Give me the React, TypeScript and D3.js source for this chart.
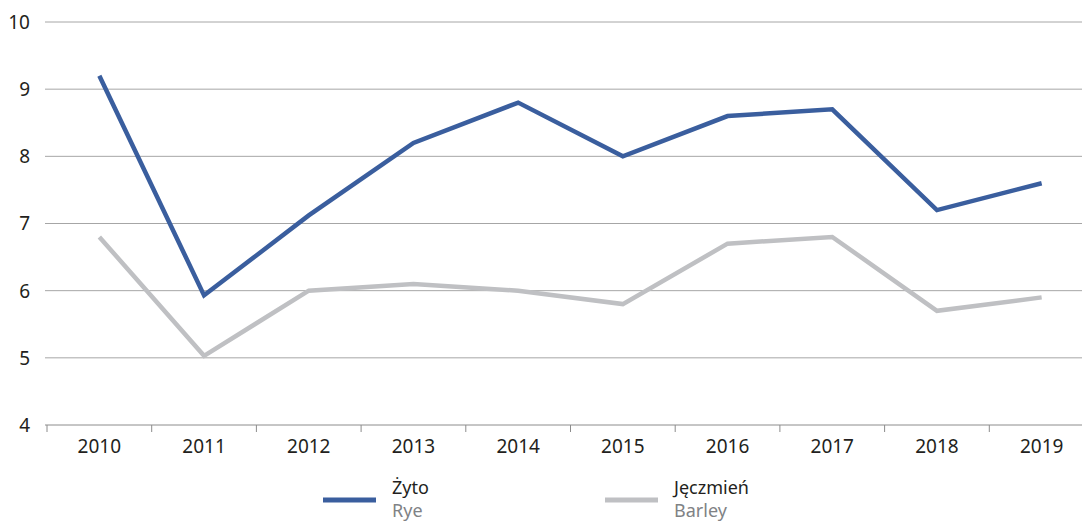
import * as d3 from "d3";
import { useEffect, useRef } from "react";

const years = ["2010", "2011", "2012", "2013", "2014", "2015", "2016", "2017", "2018", "2019"];
const rye = [9.2, 5.93, 7.12, 8.2, 8.8, 8.0, 8.6, 8.7, 7.2, 7.6];
const barley = [6.8, 5.03, 6.0, 6.1, 6.0, 5.8, 6.7, 6.8, 5.7, 5.9];
const yTicks = [4, 5, 6, 7, 8, 9, 10];

const width = 1082;
const height = 523;
const font = "'Noto Sans', 'Open Sans', sans-serif";
const ryeColor = "#3a5e9e";
const barleyColor = "#bfc0c3";

const App = () => {
  const ref = useRef<SVGSVGElement>(null);

  useEffect(() => {
    const margin = { top: 22, right: -12, bottom: 98, left: 47 };
    const svg = d3.select(ref.current);
    svg.selectAll("*").remove();

    const x = d3
      .scaleBand()
      .domain(years)
      .range([margin.left, width - margin.right]);

    const y = d3
      .scaleLinear()
      .domain([4, 10])
      .range([height - margin.bottom, margin.top]);

    // gridlines
    svg
      .append("g")
      .selectAll("line")
      .data(yTicks.filter((t) => t > 4))
      .join("line")
      .attr("x1", 45)
      .attr("x2", width)
      .attr("y1", (d) => y(d))
      .attr("y2", (d) => y(d))
      .attr("stroke", "#a6a6a6")
      .attr("stroke-width", 1);

    // y labels
    svg
      .append("g")
      .selectAll("text")
      .data(yTicks)
      .join("text")
      .attr("x", 30)
      .attr("y", (d) => y(d))
      .attr("dy", "0.36em")
      .attr("text-anchor", "end")
      .attr("font-family", font)
      .attr("font-size", 19)
      .attr("fill", "#231f20")
      .text((d) => d);

    // x axis
    const xAxis = svg
      .append("g")
      .attr("transform", `translate(0, ${y(4)})`)
      .call(
        d3
          .axisBottom(x)
          .tickSize(0)
          .tickPadding(15)
      );
    xAxis.select(".domain").remove();
    xAxis
      .append("line")
      .attr("x1", 45)
      .attr("x2", width)
      .attr("stroke", "#8c8c8c")
      .attr("stroke-width", 1);
    xAxis
      .selectAll(".sep")
      .data(years)
      .join("line")
      .attr("class", "sep")
      .attr("x1", (d) => x(d)!)
      .attr("x2", (d) => x(d)!)
      .attr("y1", 0)
      .attr("y2", 7)
      .attr("stroke", "#8c8c8c");
    xAxis
      .selectAll(".tick text")
      .attr("font-family", font)
      .attr("font-size", 19)
      .attr("fill", "#231f20");

    const line = d3
      .line<number>()
      .x((_, i) => x(years[i])! + x.bandwidth() / 2)
      .y((d) => y(d));

    svg
      .append("path")
      .datum(barley)
      .attr("d", line)
      .attr("fill", "none")
      .attr("stroke", barleyColor)
      .attr("stroke-width", 4.5);

    svg
      .append("path")
      .datum(rye)
      .attr("d", line)
      .attr("fill", "none")
      .attr("stroke", ryeColor)
      .attr("stroke-width", 4.5);

    // legend
    const legend = [
      { pl: "Żyto", en: "Rye", color: ryeColor, x: 323 },
      { pl: "Jęczmień", en: "Barley", color: barleyColor, x: 605 },
    ];
    const lg = svg
      .append("g")
      .selectAll("g")
      .data(legend)
      .join("g")
      .attr("transform", (d) => `translate(${d.x}, 0)`);
    lg.append("line")
      .attr("x1", 0)
      .attr("x2", 53)
      .attr("y1", 500)
      .attr("y2", 500)
      .attr("stroke", (d) => d.color)
      .attr("stroke-width", 5);
    lg.append("text")
      .attr("x", 69)
      .attr("y", 494)
      .attr("font-family", font)
      .attr("font-size", 18)
      .attr("fill", "#231f20")
      .text((d) => d.pl);
    lg.append("text")
      .attr("x", 69)
      .attr("y", 517)
      .attr("font-family", font)
      .attr("font-size", 18)
      .attr("fill", "#808285")
      .text((d) => d.en);
  }, []);

  return (
    <svg
      ref={ref}
      width={width}
      height={height}
      style={{ position: "absolute", left: 0, top: 0, background: "#fff" }}
    ></svg>
  );
};

export default App;
